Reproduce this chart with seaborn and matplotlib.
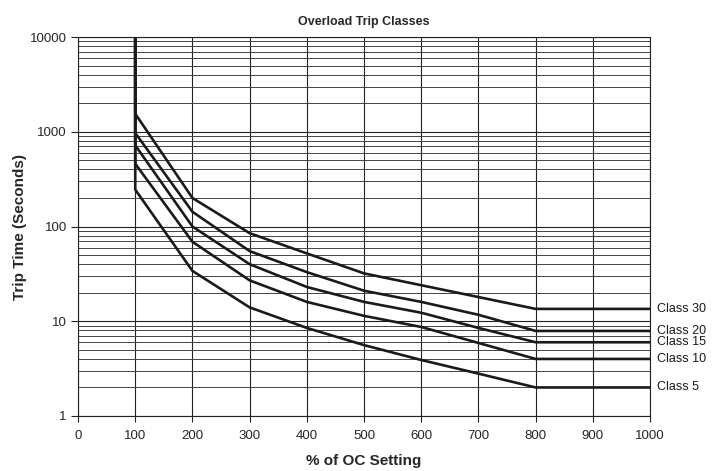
import matplotlib
matplotlib.use("Agg")
import matplotlib.pyplot as plt
import matplotlib.ticker as mticker
import numpy as np
import pandas as pd
import seaborn as sns

# Data
pct = [100, 100, 200, 300, 400, 500, 600, 700, 800, 1000]
class_names = ["Class 30", "Class 20", "Class 15", "Class 10", "Class 5"]
class30 = [10000, 1550, 200, 85, 52, 32, 24, 18, 13.5, 13.5]
class20 = [10000, 970, 143, 55, 33, 21, 16, 11.7, 7.9, 7.9]
class15 = [10000, 720, 100, 40, 23, 16, 12.3, 8.5, 6.0, 6.0]
class10 = [10000, 460, 69, 27, 16, 11.4, 8.7, 5.9, 4.0, 4.0]
class5 = [10000, 245, 34, 14, 8.5, 5.6, 3.9, 2.8, 2.0, 2.0]
x_ticks = [0, 100, 200, 300, 400, 500, 600, 700, 800, 900, 1000]
y_ticks = [1, 10, 100, 1000, 10000]
y_tick_labels = ["1", "10", "100", "1000", "10000"]

series = [class30, class20, class15, class10, class5]
rows = []
for name, vals in zip(class_names, series):
    for i, (x, y) in enumerate(zip(pct, vals)):
        rows.append({"pct": x, "time": y, "cls": name, "order": i})
df = pd.DataFrame(rows)

sns.set_style("white")
plt.rcParams["font.family"] = ["Liberation Sans", "DejaVu Sans"]

fig = plt.figure(figsize=(7.12, 4.71), dpi=100)
ax = fig.add_axes([0.1096, 0.1168, 0.8034, 0.8046])

sns.lineplot(data=df, x="pct", y="time", hue="cls", units="cls", estimator=None,
             sort=False, palette=["#1a1a1a"] * 5, linewidth=1.9, legend=False, ax=ax)

ax.set_yscale("log")
ax.set_xlim(0, 1000)
ax.set_ylim(1, 10000)
ax.set_xticks(x_ticks)
ax.set_xticklabels([str(t) for t in x_ticks], fontsize=9.5)
ax.set_yticks(y_ticks)
ax.set_yticklabels(y_tick_labels, fontsize=9.5)
ax.yaxis.set_minor_locator(mticker.LogLocator(base=10, subs=np.arange(2, 10)))
ax.yaxis.set_minor_formatter(mticker.NullFormatter())
ax.tick_params(axis="y", which="major", direction="out", length=5, width=0.8,
               color="#222222", pad=3, left=True)
ax.tick_params(axis="x", which="major", direction="out", length=4, width=0.8,
               color="#222222", pad=6, bottom=True)
ax.tick_params(axis="y", which="minor", length=0)

ax.grid(True, which="major", axis="both", color="#222222", linewidth=0.8)
ax.grid(True, which="minor", axis="y", color="#444444", linewidth=0.7)
ax.set_axisbelow(True)
for s in ax.spines.values():
    s.set_color("#222222")
    s.set_linewidth(0.8)

for name, vals in zip(class_names, series):
    ax.text(1013, vals[-1], name, fontsize=9, va="center", ha="left",
            color="#1a1a1a", clip_on=False)

ax.set_title("Overload Trip Classes", fontsize=9, fontweight="bold", pad=9)
ax.set_xlabel("% of OC Setting", fontsize=11, fontweight="bold", labelpad=9)
ax.set_ylabel("Trip Time (Seconds)", fontsize=11, fontweight="bold", labelpad=2)

fig.savefig("out.png", dpi=100)
